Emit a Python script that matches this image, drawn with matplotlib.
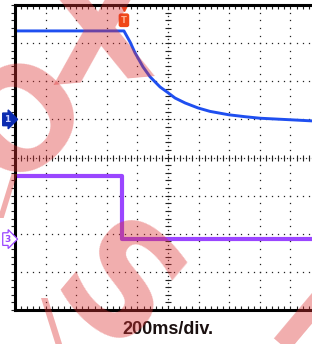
import numpy as np
import matplotlib
matplotlib.use("Agg")
import matplotlib.pyplot as plt

# screen in divisions: 10 x 8
ch1_x = [0.0, 3.56, 3.76, 3.92, 4.18, 4.41, 4.74, 5.00, 5.23, 5.56, 5.98, 6.37, 6.99, 7.52, 8.01, 8.99, 9.71, 10.0]
ch1_y = [7.32, 7.32, 7.03, 6.75, 6.38, 6.12, 5.85, 5.70, 5.56, 5.43, 5.30, 5.21, 5.12, 5.07, 5.03, 4.99, 4.96, 4.95]

ch3_x = [0.0, 3.51, 3.51, 10.0]
ch3_y = [3.52, 3.52, 1.86, 1.86]

ch1_ground = 5.0
ch3_ground = 1.86
trig_x = 3.56
timebase = "200ms/div."

blue = '#1f4ff0'
purple = '#9a46ff'

fig = plt.figure(figsize=(3.12, 3.44), dpi=100)
ax = fig.add_axes([15/312, 34/344, 306/312, 305/344])
ax.set_xlim(0, 10)
ax.set_ylim(0, 8)
ax.set_xticks([])
ax.set_yticks([])
for s in ['left', 'bottom', 'top']:
    ax.spines[s].set_linewidth(2.2)
    ax.spines[s].set_color('black')
ax.spines['right'].set_visible(False)

dot = dict(ls='none', marker='s', ms=0.9, mew=0, color='#222222')
# graticule
ys = np.arange(0, 8.01, 0.2)
xs = np.arange(0, 10.01, 0.2)
for gx in range(1, 10):
    if gx != 5:
        ax.plot(np.full_like(ys, gx), ys, **dot)
for gy in range(1, 8):
    if gy != 4:
        ax.plot(xs, np.full_like(xs, gy), **dot)
# centre axes
ax.plot(np.full(81, 5.0), np.arange(0, 8.01, 0.1), **dot)
ax.plot(np.arange(0, 10.01, 0.1), np.full(101, 4.0), **dot)
ax.plot(np.full_like(ys, 5.0), ys, ls='none', marker='_', ms=4, mew=0.8, color='#222222')
ax.plot(xs, np.full_like(xs, 4.0), ls='none', marker='|', ms=4, mew=0.8, color='#222222')
# edge ticks
ax.plot(np.zeros_like(ys), ys, ls='none', marker=0, ms=3, mew=0.8, color='#222222', clip_on=False)
ax.plot(xs, np.zeros_like(xs), ls='none', marker=2, ms=3, mew=0.8, color='#222222', clip_on=False)
ax.plot(xs, np.full_like(xs, 8.0), ls='none', marker=3, ms=3, mew=0.8, color='#222222', clip_on=False)

# traces
ax.plot(ch1_x, ch1_y, color=blue, lw=2.1, solid_joinstyle='round')
ax.plot(ch3_x, ch3_y, color=purple, lw=3.0)

# channel markers
ax.text(-0.24, ch1_ground, '1', transform=ax.transData, clip_on=False, ha='center', va='center',
        fontsize=6.5, color='#c8d0ff', fontweight='bold',
        bbox=dict(boxstyle='rarrow,pad=0.2', fc='#0a2bb0', ec='#0a2bb0'))
ax.text(-0.24, ch3_ground, '3', transform=ax.transData, clip_on=False, ha='center', va='center',
        fontsize=6.5, color=purple, fontweight='bold',
        bbox=dict(boxstyle='rarrow,pad=0.2', fc='white', ec=purple, lw=0.9))
# trigger marker
ax.plot([trig_x], [7.93], marker='v', ms=4, color='#f04818', clip_on=False, ls='none')
ax.text(trig_x, 7.6, 'T', ha='center', va='center', fontsize=6, color='#ffb090', fontweight='bold',
        bbox=dict(boxstyle='round,pad=0.2', fc='#f04818', ec='#f04818'))

fig.text(168/312, 1 - 330/344, timebase, ha='center', va='center', fontsize=13,
         fontweight='bold', family='Liberation Sans', color='#1a1010')

# watermark
wm = dict(color='#dd3333', alpha=0.4, ha='center', va='center', fontweight='bold',
          family='DejaVu Sans', zorder=10)
fig.text(100/312, 1 - 42/344, 'X', fontsize=100, rotation=5, **wm)
fig.text(26/312, 1 - 122/344, 'O', fontsize=100, rotation=45, **wm)
fig.text(114/312, 1 - 296/344, 'S', fontsize=110, rotation=-40, **wm)
fig.text(318/312, 1 - 345/344, 'N', fontsize=80, rotation=-40, **wm)
fig.text(8/312, 1 - 198/344, '/', fontsize=38, **wm)
fig.text(52/312, 1 - 326/344, '\\', fontsize=44, **wm)

fig.savefig('out.png', dpi=100)
